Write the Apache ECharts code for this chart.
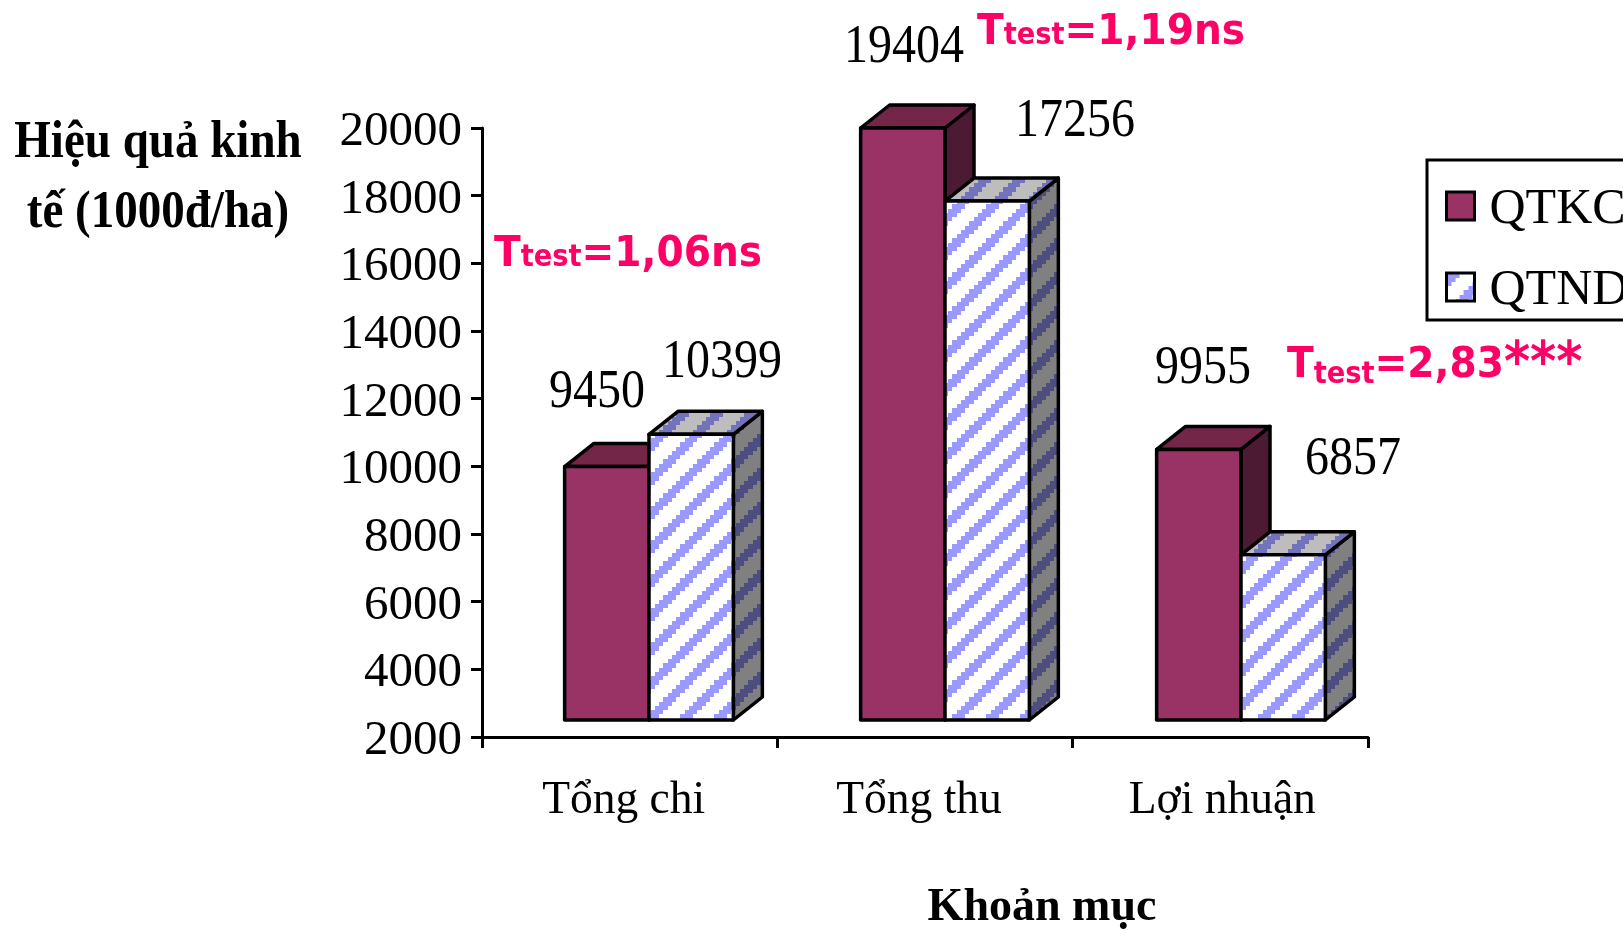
<!DOCTYPE html>
<html><head><meta charset="utf-8">
<style>html,body{margin:0;padding:0;background:#fff;overflow:hidden}#c{width:1623px;height:933px}</style>
<script src="https://cdn.jsdelivr.net/npm/echarts@6/dist/echarts.min.js"></script>
</head><body><div id="c"></div>
<script>
const categories = ['Tổng chi', 'Tổng thu', 'Lợi nhuận'];
const qtkc = [9450, 19404, 9955];
const qtnd = [10399, 17256, 6857];
const yTicks = [2000, 20000, 2000]; // min, max, interval
const tests = ['1,06ns', '1,19ns', '2,83***'];

function stripes(bg, fg) {
  const cell = 4.25, n = 8, s = 34;
  const c = document.createElement('canvas'); c.width = s; c.height = s;
  const g = c.getContext('2d');
  g.fillStyle = bg; g.fillRect(0, 0, s, s);
  g.fillStyle = fg;
  for (let y = 0; y < s; y++) for (let x = 0; x < s; x++) {
    const cx = Math.floor(x / cell), cy = Math.floor(y / cell);
    if ((cx + cy) % n < 3) g.fillRect(x, y, 1, 1);
  }
  return { image: c, repeat: 'repeat' };
}
const pFront = stripes('#ffffff', '#9999ff');
const pTop = stripes('#bdbdbd', '#7373bb');
const pSide = stripes('#808080', '#4d4d80');
const skins = [
  { front: '#993366', top: '#732648', side: '#4d1a33' },
  { front: pFront, top: pTop, side: pSide }
];
const DX = 29, DY = 23, LW = 3.5;
function bar3d(seriesIdx) {
  return function (params, api) {
    const p = api.coord([api.value(0), api.value(1)]);
    const base = api.coord([api.value(0), 2000]);
    const w = api.size([1, 0])[0] * 0.285;
    const x0 = seriesIdx === 0 ? p[0] - w : p[0], x1 = x0 + w, yT = p[1], yB = base[1];
    const sk = skins[seriesIdx];
    const line = { stroke: '#000', lineWidth: LW, lineJoin: 'round' };
    const poly = (pts, fill) => ({ type: 'polygon', shape: { points: pts }, style: Object.assign({ fill }, line) });
    return { type: 'group', children: [
      poly([[x1, yT], [x1 + DX, yT - DY], [x1 + DX, yB - DY], [x1, yB]], sk.side),
      poly([[x0, yT], [x0 + DX, yT - DY], [x1 + DX, yT - DY], [x1, yT]], sk.top),
      poly([[x0, yT], [x1, yT], [x1, yB], [x0, yB]], sk.front)
    ] };
  };
}
const serif = '"Liberation Serif","Times New Roman",serif';
const sans = '"DejaVu Sans",Verdana,sans-serif';
const PINK = '#ff0066';
const valueText = (v, x, y) => ({ type: 'text', x, y, scaleY: 1.14, style: { text: String(v), fill: '#000', font: '48px ' + serif, align: 'center', verticalAlign: 'middle' } });
const testText = (t, x, y) => {
  const stars = (t.match(/\*+$/) || [''])[0], body = t.slice(0, t.length - stars.length);
  return { type: 'text', x, y, scaleX: 0.91, style: {
    text: '{a|T}{b|test}{a|=' + body + '}' + (stars ? '{c|' + stars + '}' : ''), align: 'left', verticalAlign: 'middle',
    rich: {
      a: { fontFamily: sans, fontWeight: 'bold', fontSize: 43, fill: PINK, color: PINK },
      b: { fontFamily: sans, fontWeight: 'bold', fontSize: 30, fill: PINK, color: PINK, verticalAlign: 'bottom', padding: [0, 0, 3, 0] },
      c: { fontFamily: sans, fontWeight: 'bold', fontSize: 55, fill: PINK, color: PINK }
    } } };
};
const chart = echarts.init(document.getElementById('c'), null, { renderer: 'canvas' });
chart.setOption({
  animation: false,
  backgroundColor: '#fff',
  grid: [
    { left: 482, top: 128, width: 886, height: 609, outerBoundsMode: 'none' },
    { left: 501, top: 128, width: 888, height: 592, outerBoundsMode: 'none' }
  ],
  xAxis: [
    { type: 'category', gridIndex: 0, data: categories,
      name: 'Khoản mục', nameLocation: 'middle', nameGap: 148,
      nameTextStyle: { fontFamily: serif, fontWeight: 'bold', fontSize: 46, color: '#000', padding: [0, 0, 0, 234] },
      axisLine: { lineStyle: { color: '#000', width: 3 } },
      axisTick: { show: true, length: 11, lineStyle: { color: '#000', width: 3 } },
      axisLabel: { margin: 41, interval: 0,
        formatter: (v, i) => '{s' + i + '|' + v + '}',
        rich: {
          s0: { fontFamily: serif, fontSize: 45.5, color: '#000', padding: [0, 12, 0, 0] },
          s1: { fontFamily: serif, fontSize: 45.5, color: '#000', padding: [0, 12, 0, 0] },
          s2: { fontFamily: serif, fontSize: 45.5, color: '#000', padding: [0, 0, 0, 4] }
        } } },
    { type: 'category', gridIndex: 1, data: categories, show: false }
  ],
  yAxis: [
    { type: 'value', gridIndex: 0, min: yTicks[0], max: yTicks[1], interval: yTicks[2],
      splitLine: { show: false },
      axisLine: { show: true, lineStyle: { color: '#000', width: 3 } },
      axisTick: { show: true, length: 11, lineStyle: { color: '#000', width: 3 } },
      axisLabel: { margin: 20, formatter: v => '{t|' + v + '}',
        rich: { t: { fontFamily: serif, fontSize: 49, color: '#000', padding: [8, 0, 0, 0] } } } },
    { type: 'value', gridIndex: 1, min: 2000, max: 19404, show: false, splitLine: { show: false } }
  ],
  legend: {
    orient: 'vertical', left: 1427, top: 160, padding: [25, 18, 4, 18],
    itemWidth: 28, itemHeight: 28, itemGap: 31, selectedMode: false,
    backgroundColor: '#fff', borderColor: '#000', borderWidth: 3,
    formatter: '{n|{name}}',
    textStyle: { rich: { n: { fontFamily: serif, fontSize: 50, color: '#000', padding: [8, 0, 0, 10] } } },
    data: [
      { name: 'QTKC', icon: 'rect', itemStyle: { color: '#993366', borderColor: '#000', borderWidth: 3 } },
      { name: 'QTND', icon: 'rect', itemStyle: { color: pFront, borderColor: '#000', borderWidth: 3 } }
    ]
  },
  series: [
    { type: 'custom', name: 'QTKC', xAxisIndex: 1, yAxisIndex: 1, renderItem: bar3d(0), clip: false,
      encode: { x: 0, y: 1 }, itemStyle: { color: '#993366' }, data: qtkc.map((v, i) => [i, v]) },
    { type: 'custom', name: 'QTND', xAxisIndex: 1, yAxisIndex: 1, renderItem: bar3d(1), clip: false,
      encode: { x: 0, y: 1 }, itemStyle: { color: '#9999ff' }, data: qtnd.map((v, i) => [i, v]) }
  ],
  graphic: [
    { type: 'text', x: 158, y: 178, scaleY: 1.14, style: { text: 'Hiệu quả kinh\ntế (1000đ/ha)', fill: '#000',
      font: 'bold 47px ' + serif, align: 'center', verticalAlign: 'middle', lineHeight: 61 } },
    valueText(qtkc[0], 597, 393), valueText(qtnd[0], 722, 363),
    valueText(qtkc[1], 904, 48), valueText(qtnd[1], 1075, 122),
    valueText(qtkc[2], 1203, 369), valueText(qtnd[2], 1353, 460),
    testText(tests[0], 494, 255), testText(tests[1], 977, 33), testText(tests[2], 1287, 366)
  ]
});
</script></body></html>
